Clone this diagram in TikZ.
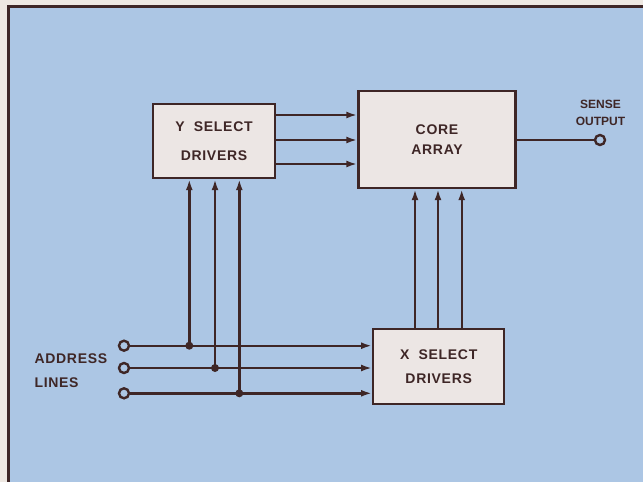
\documentclass[tikz,border=0pt]{standalone}
\usepackage{fontspec}
\setmainfont{Liberation Sans}
\usetikzlibrary{arrows.meta,positioning,calc}
\definecolor{ink}{RGB}{62,38,38}
\definecolor{panel}{RGB}{172,198,228}
\definecolor{boxfill}{RGB}{236,230,228}
\definecolor{paper}{RGB}{238,232,226}
\newcommand{\blockfont}{\fontsize{14}{17}\selectfont\bfseries\addfontfeature{LetterSpace=5}}
\newcommand{\smallfont}{\fontsize{12}{16.5}\selectfont\bfseries}

\begin{document}
\begin{tikzpicture}[x=1pt,y=-1pt,
  block/.style={draw=ink, fill=boxfill, line width=2.4pt, inner sep=0pt, text=ink, align=center, font=\blockfont},
  wire/.style={draw=ink, line width=2.4pt},
  arr/.style={wire, -{Latex[length=11pt,width=7pt]}},
  term/.style={circle, draw=ink, line width=2.4pt, inner sep=0pt, minimum size=10pt},
  tag/.style={text=ink, font=\blockfont}]
\useasboundingbox (0,0) rectangle (643,482);
% Panel
\fill[paper] (0,0) rectangle (643,482);
\filldraw[fill=panel, draw=ink, line width=2.6pt] (8.5,6.5) rectangle (660,500);
% Blocks
\node[block, minimum width=122pt, minimum height=74pt] (ysel) at (214,141) {Y\ \ SELECT\\[12pt]DRIVERS};
\node[block, minimum width=157pt, minimum height=97pt] (core) at (437,139.5) {CORE\\[3pt]ARRAY};
\node[block, minimum width=131pt, minimum height=75pt] (xsel) at (438.7,366.7) {X\ \ SELECT\\[7.6pt]DRIVERS};
% Y drivers -> core
\foreach \dy in {26,1,-23} {
  \draw[arr] ([yshift=\dy]ysel.east) -- ([yshift=\dy]ysel.east -| core.west);
}
% X drivers -> core
\foreach \dx in {-23.7,-0.7,23} {
  \draw[arr] ([xshift=\dx]xsel.north) -- ([xshift=\dx]xsel.north |- core.south);
}
% Address lines with taps up to Y drivers
\foreach \i/\y/\x in {1/345.7/189.3, 2/368/215, 3/393.3/239.3} {
  \node[term] (a\i) at (124,\y) {};
  \coordinate (j\i) at (\x,\y);
  \draw[arr] (a\i) -- (a\i -| xsel.west);
  \draw[arr] (j\i) -- (j\i |- ysel.south);
  \fill[ink] (j\i) circle (4pt);
}
\node[tag, anchor=west, align=left] (addr) at (31,371) {ADDRESS\\[7pt]LINES};
% Sense output
\node[term] (so) at (600,140) {};
\draw[wire] (core.east |- so) -- (so);
\node[text=ink, font=\smallfont, align=center] (sense) at (600.5,113) {SENSE\\OUTPUT};
\end{tikzpicture}
\end{document}
